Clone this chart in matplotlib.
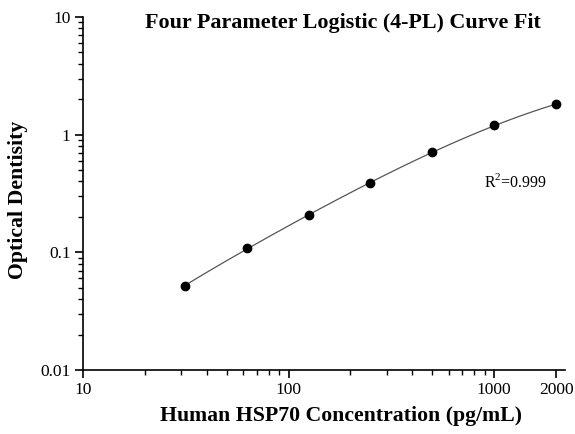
import numpy as np
import matplotlib
matplotlib.use("Agg")
import matplotlib.pyplot as plt
from matplotlib.ticker import FixedLocator, NullFormatter

# Data
concentration = [31.25, 62.5, 125, 250, 500, 1000, 2000]
optical_density = [0.052, 0.108, 0.207, 0.386, 0.712, 1.205, 1.81]
x_major_ticks = [10, 100, 1000, 2000]
x_tick_labels = ["10", "100", "1000", "2000"]
y_major_ticks = [0.01, 0.1, 1, 10]
y_tick_labels = ["0.01", "0.1", "1", "10"]
r_squared_text = r"R$^{\mathregular{2}}$=0.999"

xd = np.array(concentration, float)
yd = np.array(optical_density, float)


def shape(x, B, C):
    return 1.0 / (1.0 + (x / C) ** B)


# 4PL fit: grid over slope B and inflection C, A and D solved by weighted least squares
best = None
for B in np.linspace(0.5, 2.0, 151):
    for logC in np.linspace(np.log(100), np.log(50000), 300):
        C = np.exp(logC)
        s = shape(xd, B, C)
        M = np.column_stack([s, 1 - s]) / yd[:, None]
        coef, *_ = np.linalg.lstsq(M, np.ones_like(yd), rcond=None)
        A, D = coef
        f = A * s + D * (1 - s)
        if np.any(f <= 0):
            continue
        err = np.sum((np.log(f) - np.log(yd)) ** 2)
        if best is None or err < best[0]:
            best = (err, A, B, C, D)
_, A, B, C, D = best

xc = np.logspace(np.log10(concentration[0]), np.log10(concentration[-1]), 300)
sc = shape(xc, B, C)
yc = A * sc + D * (1 - sc)

plt.rcParams['font.family'] = ['Liberation Serif', 'DejaVu Serif']
plt.rcParams['mathtext.fontset'] = 'custom'
plt.rcParams['mathtext.rm'] = 'Liberation Serif'

fig = plt.figure(figsize=(5.75, 4.34), dpi=100)
ax = fig.add_axes([83 / 575, 1 - 370 / 434, (565 - 83) / 575, (370 - 17) / 434])

ax.plot(xc, yc, color='#555555', lw=0.9, zorder=2)
ax.plot(xd, yd, 'o', color='black', ms=6, zorder=3)

ax.set_xscale('log')
ax.set_yscale('log')
ax.set_xlim(10, 2210)
ax.set_ylim(0.01, 10)

ax.xaxis.set_major_locator(FixedLocator(x_major_ticks))
ax.set_xticklabels(x_tick_labels)
xminor = [m * d for d in (10, 100) for m in range(2, 10)]
ax.xaxis.set_minor_locator(FixedLocator(xminor))
ax.xaxis.set_minor_formatter(NullFormatter())

ax.yaxis.set_major_locator(FixedLocator(y_major_ticks))
ax.set_yticklabels(y_tick_labels)
yminor = [m * d for d in (0.01, 0.1, 1) for m in range(2, 10)]
ax.yaxis.set_minor_locator(FixedLocator(yminor))
ax.yaxis.set_minor_formatter(NullFormatter())

for s in ('top', 'right'):
    ax.spines[s].set_visible(False)
for s in ('left', 'bottom'):
    ax.spines[s].set_linewidth(1.2)

ax.tick_params(which='major', direction='out', length=6, width=1.2, labelsize=12.5, pad=3)
ax.tick_params(which='minor', direction='out', length=3.5, width=1.0)

fig.text(343 / 575, 1 - 23 / 434, "Four Parameter Logistic (4-PL) Curve Fit",
         ha='center', va='center', fontsize=15.8, fontweight='bold')
fig.text(341 / 575, 1 - 416 / 434, "Human HSP70 Concentration (pg/mL)",
         ha='center', va='center', fontsize=15.7, fontweight='bold')
fig.text(18 / 575, 1 - 200 / 434, "Optical Dentisity", rotation=90,
         ha='center', va='center', fontsize=15.7, fontweight='bold')
fig.text(516 / 575, 1 - 182 / 434, r_squared_text, ha='center', va='center', fontsize=11.5)

fig.savefig("out.png", dpi=100)
